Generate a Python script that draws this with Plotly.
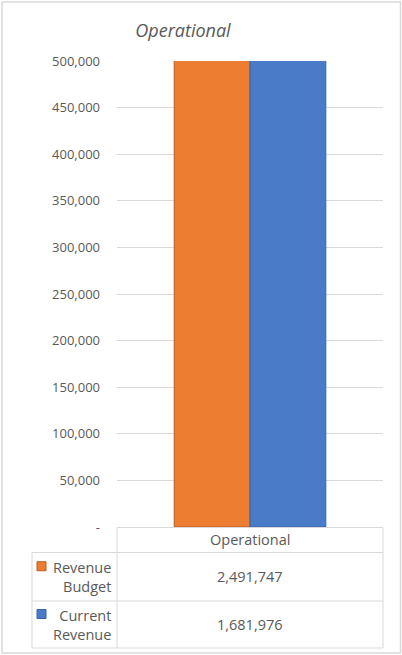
import plotly.graph_objects as go

categories = ["Operational"]
series_names = ["Revenue Budget", "Current Revenue"]
series_labels = ["Revenue<br>Budget", "Current<br>Revenue"]
revenue_budget = [2491747]
current_revenue = [1681976]
tick_vals = [0, 50000, 100000, 150000, 200000, 250000, 300000, 350000, 400000, 450000, 500000]
tick_text = ["-", "50,000", "100,000", "150,000", "200,000", "250,000", "300,000",
             "350,000", "400,000", "450,000", "500,000"]
colors = ["#ED7D31", "#4A7BC9"]
edge_colors = ["#B85F22", "#3B63A8"]

W, H = 402, 655
L, R, T, B = 117, 383, 61, 527
FONT = "Open Sans"
TXT = "#595959"
GRID = "#D9D9D9"

def px(x):
    return (x - L) / (R - L)

def py(y):
    return (B - y) / (B - T)

fig = go.Figure()
for name, vals, c, ec in zip(series_names, [revenue_budget, current_revenue], colors, edge_colors):
    fig.add_trace(go.Bar(x=categories, y=vals, name=name, marker=dict(color=c, line=dict(color=ec, width=1)),
                         showlegend=False))

shapes = []
annotations = []
# outer border
shapes.append(dict(type="rect", xref="paper", yref="paper", x0=px(2), x1=px(400.5), y0=py(2), y1=py(653),
                   line=dict(color=GRID, width=1.5), fillcolor="rgba(0,0,0,0)", layer="below"))
# table lines
def hline(x0, x1, y):
    shapes.append(dict(type="line", xref="paper", yref="paper", x0=px(x0), x1=px(x1), y0=py(y), y1=py(y),
                       line=dict(color=GRID, width=1)))
def vline(x, y0, y1):
    shapes.append(dict(type="line", xref="paper", yref="paper", x0=px(x), x1=px(x), y0=py(y0), y1=py(y1),
                       line=dict(color=GRID, width=1)))

hline(L, R, 527.5)
hline(32, R, 552.5)
hline(32, R, 601)
hline(32, R, 648)
vline(L, 527.5, 648)
vline(R, 527.5, 648)
vline(32, 552.5, 648)

# header
for i, cat in enumerate(categories):
    annotations.append(dict(xref="paper", yref="paper", x=px(250), y=py(539.5), text=cat, showarrow=False,
                            font=dict(family=FONT, size=14.5, color=TXT), xanchor="center", yanchor="middle"))

rows = [(552.5, 601), (601, 648)]
for (y0, y1), lab, vals, c, ec in zip(rows, series_labels, [revenue_budget, current_revenue], colors, edge_colors):
    ym = (y0 + y1) / 2
    shapes.append(dict(type="rect", xref="paper", yref="paper", x0=px(37), x1=px(46), y0=py(ym - 15),
                       y1=py(ym - 6), fillcolor=c, line=dict(color=ec, width=1)))
    annotations.append(dict(xref="paper", yref="paper", x=px(113), y=py(ym), text=lab, showarrow=False,
                            font=dict(family=FONT, size=14.5, color=TXT), xanchor="right", yanchor="middle",
                            align="right"))
    annotations.append(dict(xref="paper", yref="paper", x=px(250), y=py(ym), text=f"{vals[0]:,}",
                            showarrow=False, font=dict(family=FONT, size=14.5, color=TXT),
                            xanchor="center", yanchor="middle"))

fig.update_layout(
    width=W, height=H,
    margin=dict(l=L, r=W - R, t=T, b=H - B),
    paper_bgcolor="white", plot_bgcolor="white",
    title=dict(text="<i>Operational</i>", x=px(183), xref="paper", xanchor="center",
               y=1 - 31 / H, yanchor="middle", font=dict(family=FONT, size=18, color=TXT)),
    barmode="group", bargap=0.43, bargroupgap=0,
    shapes=shapes, annotations=annotations,
    xaxis=dict(showticklabels=False, showgrid=False, zeroline=False, showline=False, fixedrange=True),
    yaxis=dict(range=[0, 500000], tickvals=tick_vals, ticktext=tick_text, showgrid=True, gridcolor=GRID,
               gridwidth=1, zeroline=False, showline=False, ticks="", ticklabelstandoff=16,
               tickfont=dict(family=FONT, size=13, color=TXT)),
)

fig.write_html("out.html")
